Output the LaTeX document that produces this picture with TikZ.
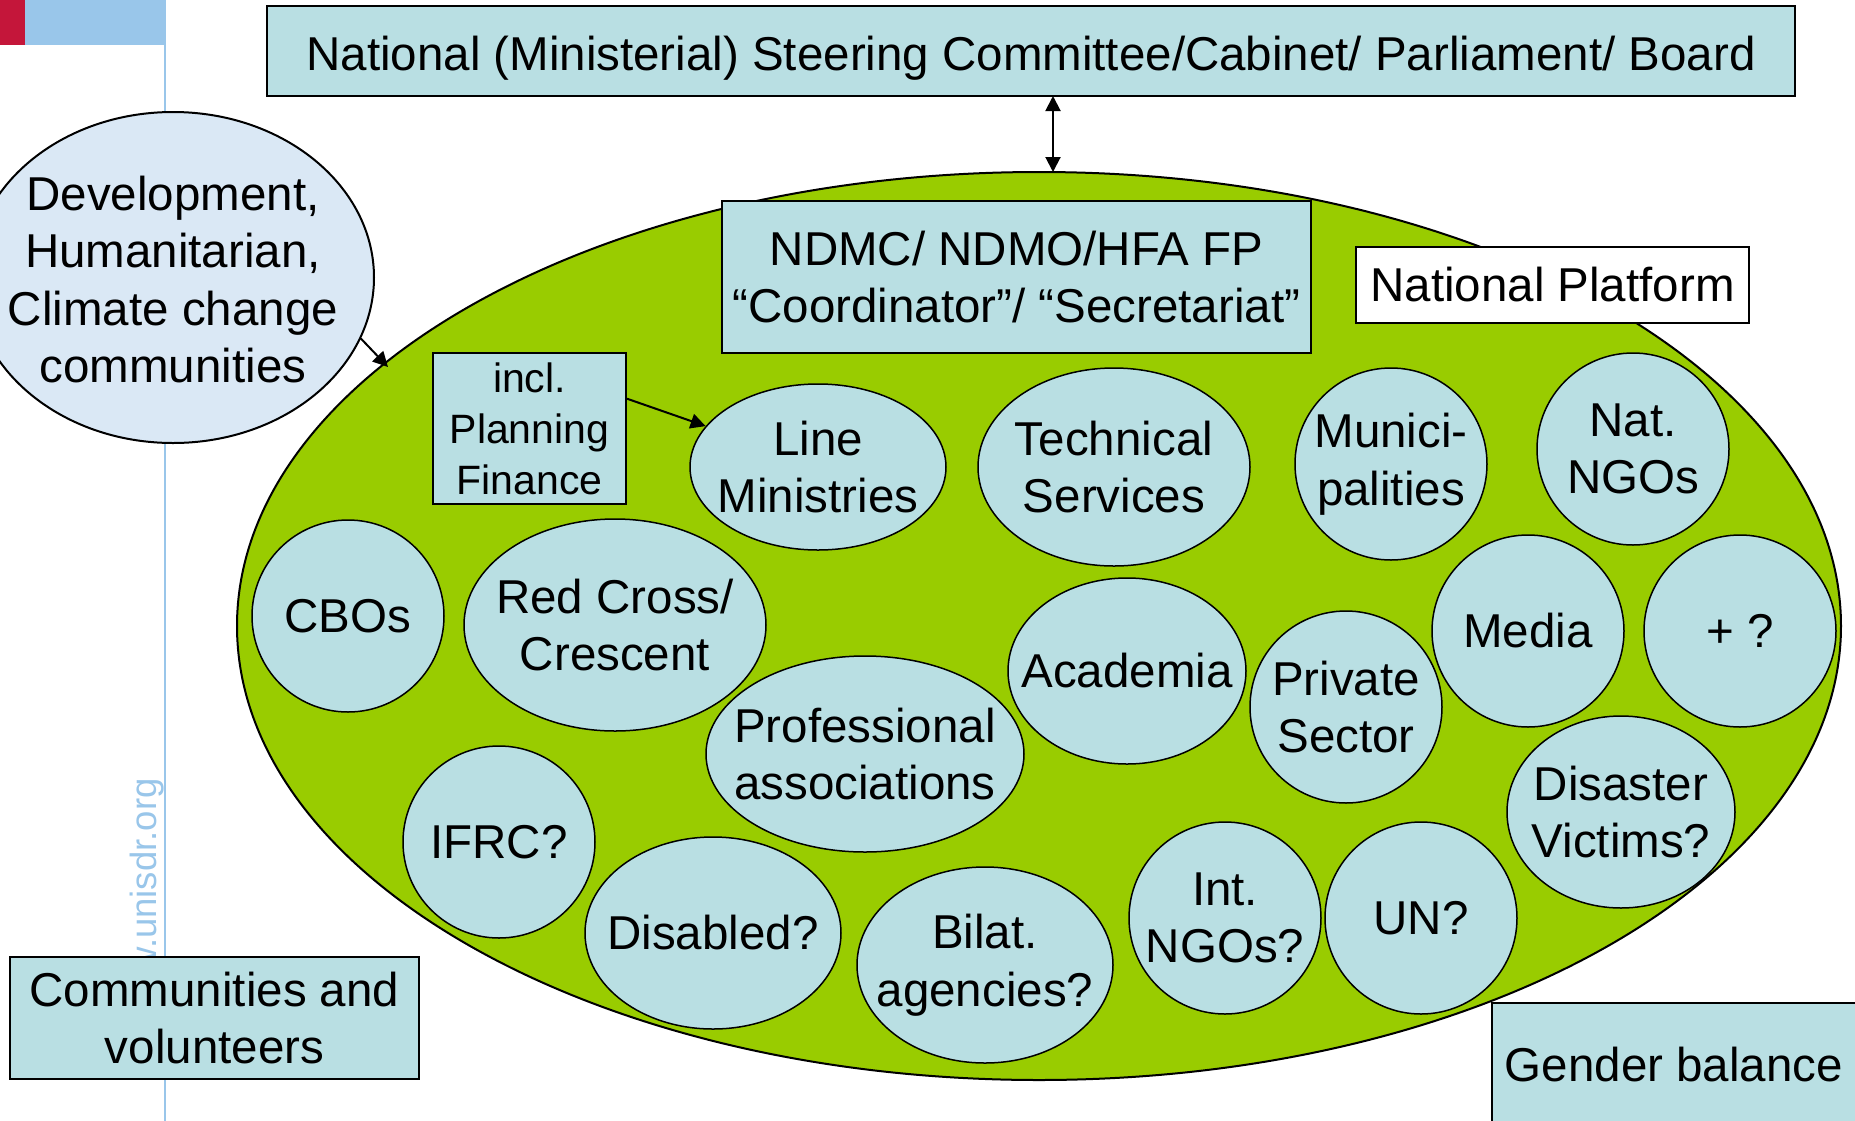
\documentclass[tikz,border=0pt]{standalone}
\usepackage{fontspec}
\setmainfont{Liberation Sans}
\usetikzlibrary{shapes.geometric,arrows.meta}
\definecolor{boxfill}{HTML}{B9DFE3}
\definecolor{platgreen}{HTML}{99CC00}
\definecolor{devfill}{HTML}{DAE8F5}
\definecolor{barblue}{HTML}{99C6EA}
\definecolor{barred}{HTML}{C4163A}
\tikzset{
  mainfont/.style={font=\fontsize{19}{23}\selectfont},
  boxnode/.style 2 args={draw, line width=0.8pt, fill=boxfill, rectangle, inner sep=0pt,
     minimum width={#1*0.4pt}, minimum height={#2*0.4pt}, align=center, mainfont},
  ell/.style 2 args={draw, line width=0.6pt, fill=boxfill, ellipse, inner sep=0pt,
     minimum width={#1*0.4pt}, minimum height={#2*0.4pt}},
  lbl/.style={align=center, mainfont, inner sep=0pt},
  arr/.style={line width=0.8pt, -{Triangle[length=6pt,width=6pt]}},
  dblarr/.style={line width=0.8pt, {Triangle[length=6pt,width=6pt]}-{Triangle[length=6pt,width=6pt]}}
}
\begin{document}
\begin{tikzpicture}[x=0.4pt,y=-0.4pt]
\useasboundingbox (0,0) rectangle (1855,1121);
\clip (0,0) rectangle (1855,1121);
\fill[white] (0,0) rectangle (1855,1121);
% decoration
\fill[barred] (0,0) rectangle (25,45);
\fill[barblue] (25,0) rectangle (166,45);
\draw[barblue, line width=0.8pt] (165,45) -- (165,1121);
\node[rotate=90, anchor=base east, inner sep=0pt, text=barblue,
      font=\fontsize{14.6}{17}\selectfont] (web) at (156,778) {www.unisdr.org};

% top box
\node[boxnode={1528}{90}, text height=15.2pt, text depth=0pt] (top) at (1031,51) {National (Ministerial) Steering Committee/Cabinet/ Parliament/ Board};

% platform
\node[draw, line width=0.8pt, fill=platgreen, ellipse, inner sep=0pt,
      minimum width={1604*0.4pt}, minimum height={908*0.4pt}] (platform) at (1039,626) {};

\coordinate (da) at (1053,96);
\coordinate (db) at (1053,172);
\draw[dblarr] (da) -- (db);

% development ellipse
\node[draw, line width=0.8pt, fill=devfill, ellipse, inner sep=0pt,
      minimum width={402*0.4pt}, minimum height={331*0.4pt},
      label={[lbl, yshift=-0.8pt]center:{Development,\\Humanitarian,\\Climate change\\communities}}]
      (dev) at (173,277.5) {};
\coordinate (devend) at (388,367);
\draw[arr] (dev.-18) -- (devend);

% boxes inside
\node[boxnode={589}{152}] (ndmc) at (1016.5,277) {NDMC/ NDMO/HFA FP\\“Coordinator”/ “Secretariat”};
\node[boxnode={393}{76}, fill=white] (np) at (1552.5,285) {National Platform};
\node[boxnode={193}{151}, font=\fontsize{16.4}{20.4}\selectfont] (incl) at (529.5,428.5) {incl.\\Planning\\Finance};

% ellipses
\node[ell={256}{166}, label={[lbl]center:{Line\\Ministries}}] (lm) at (818,467) {};
\node[ell={272}{198}, label={[lbl]center:{Technical\\Services}}] (ts) at (1114,467) {};
\node[ell={192}{192}, label={[lbl]center:{Munici-\\palities}}] (mun) at (1391,464) {};
\node[ell={192}{192}, label={[lbl]center:{Nat.\\NGOs}}] (nngo) at (1633,449) {};
\node[ell={192}{192}, label={[lbl]center:{CBOs}}] (cbo) at (348,616) {};
\node[ell={302}{212}, label={[lbl]center:{Red Cross/\\Crescent}}] (rc) at (615,625) {};
\node[ell={238}{186}, label={[lbl]center:{Academia}}] (acad) at (1127,671) {};
\node[ell={192}{192}, label={[lbl]center:{Private\\Sector}}] (priv) at (1346,707) {};
\node[ell={192}{192}, label={[lbl]center:{Media}}] (media) at (1528,631) {};
\node[ell={192}{192}, label={[lbl]center:{+ ?}}] (plus) at (1740,631) {};
\node[ell={318}{196}, label={[lbl]center:{Professional\\associations}}] (prof) at (865,754) {};
\node[ell={228}{192}, label={[lbl]center:{Disaster\\Victims?}}] (dv) at (1621,812) {};
\node[ell={192}{192}, label={[lbl]center:{IFRC?}}] (ifrc) at (499,842) {};
\node[ell={256}{192}, label={[lbl]center:{Disabled?}}] (dis) at (713,933) {};
\node[ell={256}{196}, label={[lbl]center:{Bilat.\\agencies?}}] (bil) at (985,965) {};
\node[ell={192}{192}, label={[lbl]center:{Int.\\NGOs?}}] (ingo) at (1225,918) {};
\node[ell={192}{192}, label={[lbl]center:{UN?}}] (un) at (1421,918) {};

\draw[arr] (incl.17) -- (lm.160);

% bottom boxes
\node[boxnode={409}{122}] (comm) at (214.5,1018) {Communities and\\volunteers};
\node[boxnode={364}{124}] (gender) at (1674,1065) {Gender balance};
\end{tikzpicture}
\end{document}
